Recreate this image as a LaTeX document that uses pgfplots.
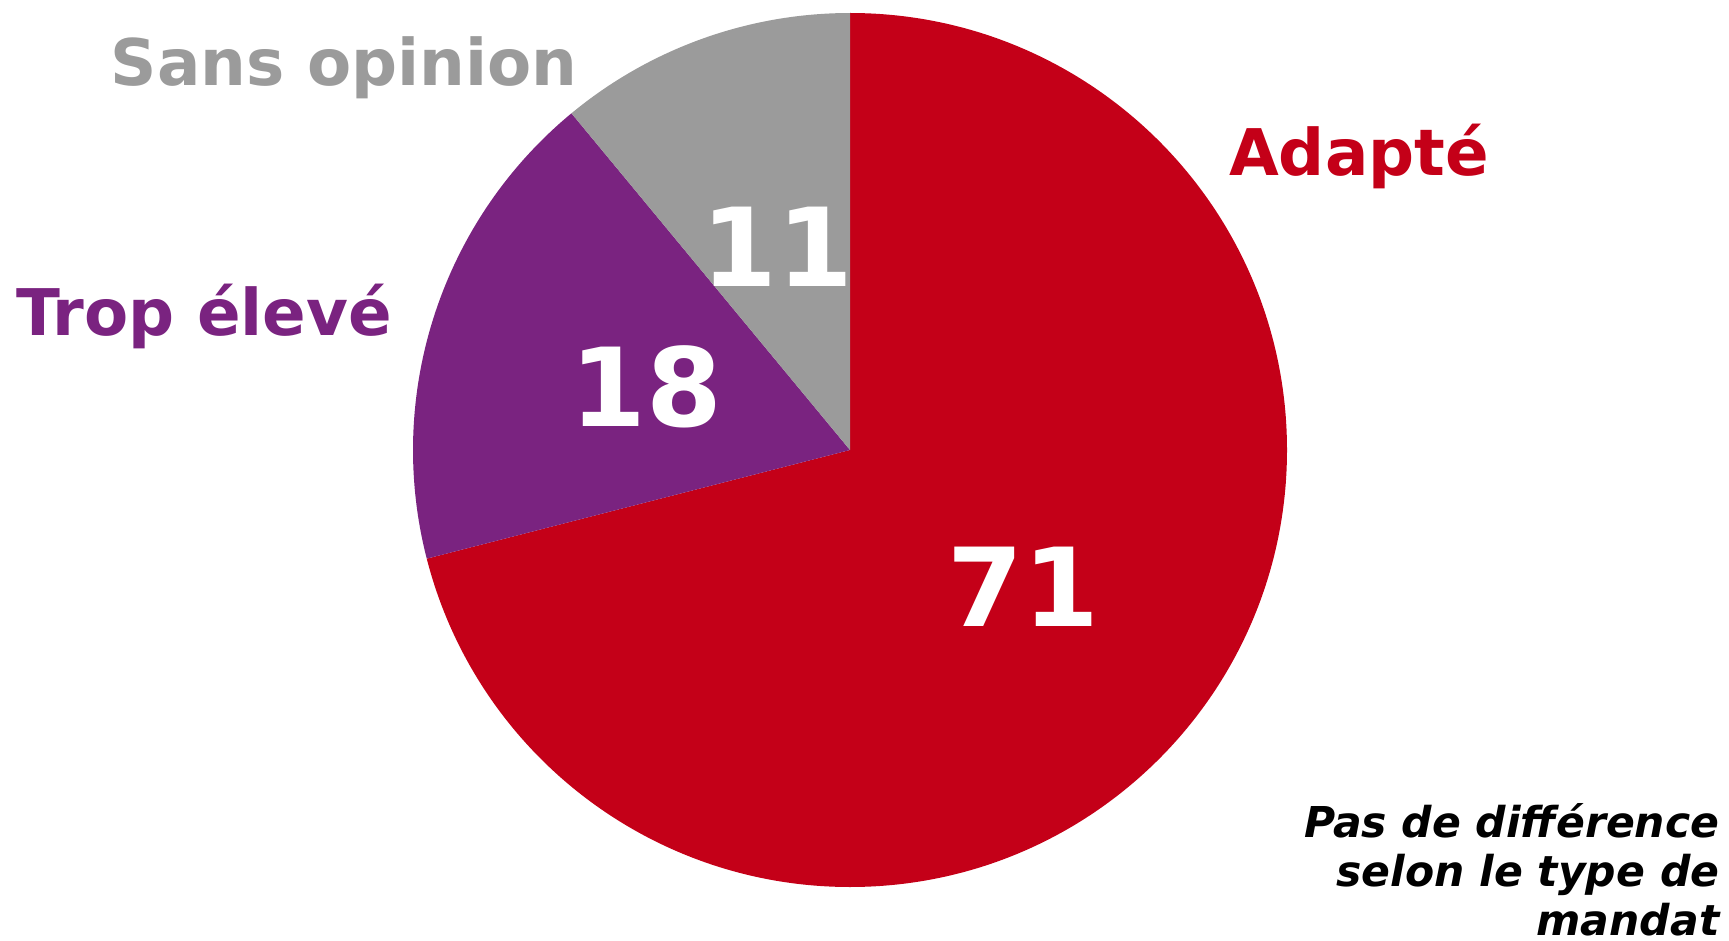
\documentclass[border=0pt]{standalone}
\usepackage{pgfplots}
\pgfplotsset{compat=1.18}
\usepackage{pgfplotstable}
\usepackage{fontspec}
\setmainfont{DejaVu Sans}
\definecolor{adapte}{RGB}{196,0,24}
\definecolor{trop}{RGB}{122,35,128}
\definecolor{sans}{RGB}{155,155,155}

% share of answers, in %
\pgfplotstableread{
label value
Adapte 71
Trop 18
Sans 11
}\piedata

\pgfplotstablegetelem{0}{value}\of\piedata\let\va\pgfplotsretval
\pgfplotstablegetelem{1}{value}\of\piedata\let\vb\pgfplotsretval
\pgfplotstablegetelem{2}{value}\of\piedata\let\vc\pgfplotsretval
\pgfmathsetmacro\aA{90-3.6*\va}
\pgfmathsetmacro\aB{\aA-3.6*\vb}
\pgfmathsetmacro\aC{\aB-3.6*\vc}

\newcommand\lbl{\fontsize{18.3}{22}\selectfont\bfseries}
\newcommand\num{\fontsize{31}{36}\selectfont\bfseries}
\newcommand\note{\fontsize{12.1}{15}\selectfont\bfseries\itshape}

\begin{document}
\begin{tikzpicture}
\begin{axis}[
    width=172.9mm, height=94.1mm, scale only axis,
    hide axis, clip=false,
    xmin=0, xmax=1729, ymin=0, ymax=941, y dir=reverse,
]
\fill[adapte] (axis cs:850,450) -- ++(90:43.7mm) arc[start angle=90, end angle=\aA, radius=43.7mm] -- cycle;
\fill[trop] (axis cs:850,450) -- ++(\aA:43.7mm) arc[start angle=\aA, end angle=\aB, radius=43.7mm] -- cycle;
\fill[sans] (axis cs:850,450) -- ++(\aB:43.7mm) arc[start angle=\aB, end angle=\aC, radius=43.7mm] -- cycle;

\node[anchor=base, text=white, inner sep=0pt] at (axis cs:1023,626) {\num 71};
\node[anchor=base, text=white, inner sep=0pt] at (axis cs:646,426) {\num 18};
\node[anchor=base, text=white, inner sep=0pt] at (axis cs:777,287) {\num 11};

\node[anchor=base, text=sans, inner sep=0pt] at (axis cs:344,86) {\lbl Sans opinion};
\node[anchor=base, text=adapte, inner sep=0pt] at (axis cs:1359,176) {\lbl Adapté};
\node[anchor=base, text=trop, inner sep=0pt] at (axis cs:204,336) {\lbl Trop élevé};

\node[anchor=base east, inner sep=0pt] at (axis cs:1720,837) {\note Pas de différence};
\node[anchor=base east, inner sep=0pt] at (axis cs:1720,886) {\note selon le type de};
\node[anchor=base east, inner sep=0pt] at (axis cs:1720,935) {\note mandat};
\end{axis}
\pgfresetboundingbox
\path[use as bounding box] (current axis.south west) rectangle (current axis.north east);
\end{tikzpicture}
\end{document}
